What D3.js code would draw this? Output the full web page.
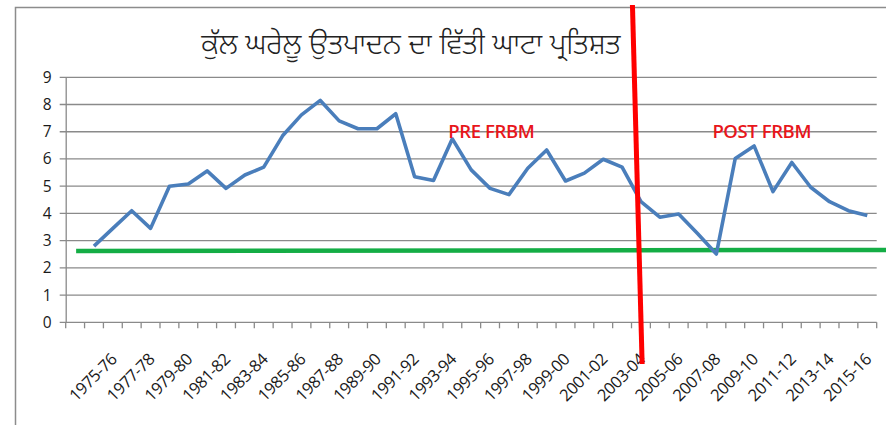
<!DOCTYPE html>
<html>
<head>
<meta charset="utf-8">
<script src="https://cdn.jsdelivr.net/npm/d3@7"></script>
<style>
  body { margin: 0; background: #fff; }
  svg { display: block; }
</style>
</head>
<body>
<div class="chart"></div>
<script>
// fiscal deficit as % of GDP, pre and post FRBM

var width = 886,
    height = 425;

var title = "ਕੁੱਲ ਘਰੇਲੂ ਉਤਪਾਦਨ ਦਾ ਵਿੱਤੀ ਘਾਟਾ ਪ੍ਰਤਿਸ਼ਤ";

// first slot of the category axis is empty in the source sheet
var years = ["",
  "1974-75", "1975-76", "1976-77", "1977-78", "1978-79", "1979-80", "1980-81",
  "1981-82", "1982-83", "1983-84", "1984-85", "1985-86", "1986-87", "1987-88",
  "1988-89", "1989-90", "1990-91", "1991-92", "1992-93", "1993-94", "1994-95",
  "1995-96", "1996-97", "1997-98", "1998-99", "1999-00", "2000-01", "2001-02",
  "2002-03", "2003-04", "2004-05", "2005-06", "2006-07", "2007-08", "2008-09",
  "2009-10", "2010-11", "2011-12", "2012-13", "2013-14", "2014-15", "2015-16"];

var deficit = [
  2.8, 3.45, 4.1, 3.45, 5.0, 5.08, 5.56,
  4.92, 5.41, 5.7, 6.85, 7.62, 8.15, 7.4,
  7.11, 7.11, 7.66, 5.35, 5.21, 6.74, 5.6,
  4.92, 4.69, 5.66, 6.33, 5.19, 5.48, 5.99,
  5.7, 4.43, 3.86, 3.98, 3.26, 2.51, 6.02,
  6.48, 4.8, 5.87, 4.96, 4.43, 4.1, 3.92];

var yTicks = [0, 1, 2, 3, 4, 5, 6, 7, 8, 9];
var targetLevel = 2.64;
var breakYear = "2003-04";
var notes = [
  {text: "PRE FRBM", year: "1993-94", value: 6.75},
  {text: "POST FRBM", year: "2007-08", value: 6.75}
];

var plotLeft = 65.7, plotRight = 876.7, plotTop = 77.3, plotBottom = 322.3;

var svg = d3.select(".chart").append("svg")
    .attr("width", width)
    .attr("height", height);

// chart frame
svg.append("rect")
    .attr("x", 15.5)
    .attr("y", 7.5)
    .attr("width", width)
    .attr("height", height)
    .attr("fill", "#fff")
    .attr("stroke", "#8c8c8c")
    .attr("stroke-width", 1.5);

var x = d3.scaleBand()
    .domain(years)
    .range([plotLeft, plotRight]);

var y = d3.scaleLinear()
    .domain([0, 9])
    .range([plotBottom, plotTop]);

var cx = function(d) { return x(d) + x.bandwidth() / 2; };

// gridlines (they also make the outside tick marks)
svg.append("g").selectAll("line")
    .data(yTicks)
  .enter().append("line")
    .attr("x1", plotLeft - 6)
    .attr("x2", plotRight)
    .attr("y1", function(d) { return y(d); })
    .attr("y2", function(d) { return y(d); })
    .attr("stroke", "#8a8a8a")
    .attr("stroke-width", 1.3);

// y axis
var yAxis = svg.append("g")
    .attr("transform", "translate(" + plotLeft + ",0)")
    .call(d3.axisLeft(y).tickValues(yTicks).tickSize(0).tickPadding(14));
yAxis.select(".domain")
    .attr("stroke", "#8a8a8a")
    .attr("stroke-width", 1.3);
yAxis.selectAll("text")
    .attr("font-family", "'Open Sans', sans-serif")
    .attr("font-size", 15.5)
    .attr("fill", "#1a1a1a");

// x axis tick marks at band edges
var edges = years.map(function(d) { return x(d); }).concat([plotRight]);
svg.append("g").selectAll("line")
    .data(edges)
  .enter().append("line")
    .attr("x1", function(d) { return d; })
    .attr("x2", function(d) { return d; })
    .attr("y1", plotBottom)
    .attr("y2", plotBottom + 6)
    .attr("stroke", "#8a8a8a")
    .attr("stroke-width", 1.3);

// every second label, rotated
svg.append("g").selectAll("text")
    .data(years.filter(function(d, i) { return i % 2 == 0 && d; }))
  .enter().append("text")
    .attr("transform", function(d) {
      return "translate(" + (cx(d) + 1) + "," + (plotBottom + 34) + ") rotate(-45)";
    })
    .attr("text-anchor", "end")
    .attr("dy", "0.35em")
    .attr("font-family", "'Open Sans', sans-serif")
    .attr("font-size", 16.5)
    .attr("letter-spacing", -0.4)
    .attr("fill", "#1a1a1a")
    .text(function(d) { return d; });

// green reference line
svg.append("line")
    .attr("x1", cx(years[0]) + 1)
    .attr("x2", width)
    .attr("y1", y(targetLevel) + 0.5)
    .attr("y2", y(targetLevel) - 0.5)
    .attr("stroke", "#14ad45")
    .attr("stroke-width", 4.5);

// deficit line
var line = d3.line()
    .x(function(d, i) { return cx(years[i + 1]); })
    .y(function(d) { return y(d); });

svg.append("path")
    .datum(deficit)
    .attr("d", line)
    .attr("fill", "none")
    .attr("stroke", "#4a7ebb")
    .attr("stroke-width", 3.6)
    .attr("stroke-linejoin", "round");

// FRBM break marker
var bx = cx(breakYear);
svg.append("line")
    .attr("x1", bx - 8.5)
    .attr("y1", 5)
    .attr("x2", bx + 1.2)
    .attr("y2", 364)
    .attr("stroke", "#ff0000")
    .attr("stroke-width", 5);

svg.append("g").selectAll("text")
    .data(notes)
  .enter().append("text")
    .attr("x", function(d) { return cx(d.year) - 4; })
    .attr("y", function(d) { return y(d.value) - 0.5; })
    .attr("font-family", "'Open Sans', sans-serif")
    .attr("font-weight", 600)
    .attr("font-size", 18.5)
    .attr("letter-spacing", -0.4)
    .attr("fill", "#e8161b")
    .text(function(d) { return d.text; });

svg.append("text")
    .attr("x", 411)
    .attr("y", 54)
    .attr("text-anchor", "middle")
    .attr("font-family", "'Noto Sans Gurmukhi', 'Lohit Gurmukhi', 'Raavi', 'Saab', 'DejaVu Sans', sans-serif")
    .attr("font-weight", 300)
    .attr("font-size", 29)
    .attr("fill", "#222")
    .text(title);
</script>
</body>
</html>
